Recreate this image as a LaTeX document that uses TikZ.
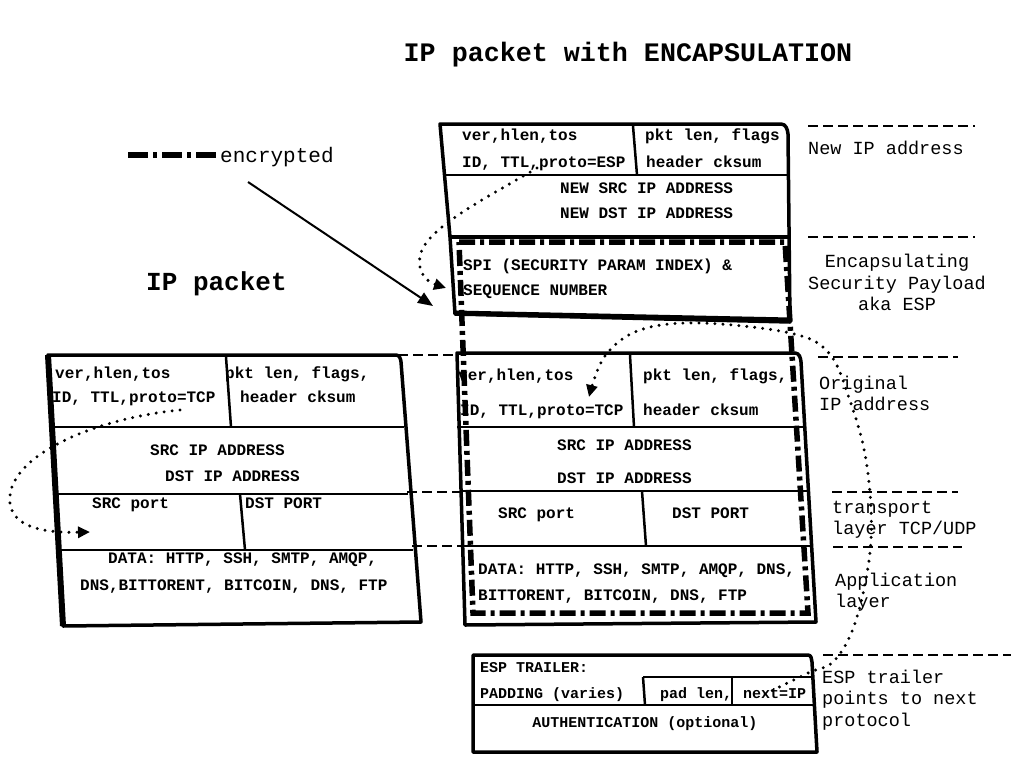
\documentclass[tikz,border=0pt]{standalone}
\usepackage{fontspec}
\setmainfont{Liberation Mono}
\usetikzlibrary{arrows.meta}
\begin{document}
\begin{tikzpicture}[x=1pt,y=-1pt,
  box/.style={line width=3.5pt, line join=round},
  sep/.style={line width=2.5pt},
  enc/.style={line width=5.5pt, dash pattern=on 16pt off 5pt on 4pt off 5pt},
  guide/.style={line width=2.2pt, dash pattern=on 10pt off 5pt},
  dotline/.style={line width=3.3pt, line cap=round, dash pattern=on 0pt off 8pt},
  bt/.style={font=\bfseries\fontsize{16}{18}\selectfont, inner sep=0pt, anchor=base west},
  tt/.style={font=\bfseries\fontsize{15}{17}\selectfont, inner sep=0pt, anchor=base west},
  lbl/.style={font=\fontsize{18.5}{21}\selectfont, inner sep=0pt, anchor=base west},
  tip/.style={-{Triangle[length=12pt,width=11pt]}}
]
\useasboundingbox (0,0) rectangle (1011,763);

% titles
\node[font=\bfseries\fontsize{26.7}{30}\selectfont, inner sep=0pt, anchor=base] (title) at (628,61) {IP packet with ENCAPSULATION};
\node[font=\bfseries\fontsize{26}{30}\selectfont, inner sep=0pt, anchor=base west] (ippk) at (146,290) {IP packet};

% legend
\draw[line width=6.5pt, dash pattern=on 20pt off 5pt on 4pt off 5pt] (128,155) -- (217,155);
\node[lbl, font=\fontsize{21}{24}\selectfont] (enclbl) at (220,162) {encrypted};
\coordinate (arrS) at (248,182);
\coordinate (arrE) at (433,306);
\draw[line width=2pt, -{Triangle[length=15pt,width=12pt]}] (arrS) -- (arrE);

% ---------- new IP header + ESP header ----------
\draw[box] (440,124) -- (781,124) to[out=0,in=95] (788,134) -- (790,322) -- (455,314) -- (450,237) -- cycle;
\draw[sep] (443,175) -- (788,175);
\draw[sep] (633,126) -- (637,175);
\draw[box] (450,237) -- (790,237);
\draw[line width=5pt] (455,313) -- (790,320);

\node[bt] (n1) at (462,140) {ver,hlen,tos};
\node[bt] (n2) at (462,167) {ID, TTL,proto=ESP};
\node[bt] (n3) at (645,140) {pkt len, flags};
\node[bt] (n4) at (646,167) {header cksum};
\node[bt] (n5) at (560,193) {NEW SRC IP ADDRESS};
\node[bt] (n6) at (560,218) {NEW DST IP ADDRESS};
\node[bt] (e1) at (463,270) {SPI (SECURITY PARAM INDEX) \&};
\node[bt] (e2) at (463,295) {SEQUENCE NUMBER};

% ---------- encapsulated original packet ----------
\draw[box] (457,353) -- (795,353) to[out=0,in=95] (801,362) -- (816,622) -- (465,625) -- cycle;
\draw[sep] (457,427) -- (803,427);
\draw[sep] (460,491) -- (807,491);
\draw[sep] (462,546) -- (810,546);
\draw[sep] (630,355) -- (634,427);
\draw[sep] (642,491) -- (646,546);

\node[bt] (o1) at (458,380) {ver,hlen,tos};
\node[bt] (o2) at (460,415) {ID, TTL,proto=TCP};
\node[bt] (o3) at (643,380) {pkt len, flags,};
\node[bt] (o4) at (643,415) {header cksum};
\node[bt] (o5) at (557,450) {SRC IP ADDRESS};
\node[bt] (o6) at (557,483) {DST IP ADDRESS};
\node[bt] (o7) at (498,518) {SRC port};
\node[bt] (o8) at (672,518) {DST PORT};
\node[bt] (o9) at (478,574) {DATA: HTTP, SSH, SMTP, AMQP, DNS,};
\node[bt] (o10) at (478,600) {BITTORENT, BITCOIN, DNS, FTP};

% encryption frame
\draw[enc] (459,242) -- (785,242) -- (808,613) -- (473,613) -- cycle;

% ---------- left IP packet ----------
\draw[box] (48,355) -- (396,355) to[out=0,in=95] (401,362) -- (421,622) -- (63,626) -- cycle;
\draw[line width=6pt] (48,355) -- (63,626);
\draw[sep] (52,427) -- (404,427);
\draw[sep] (57,494) -- (408,494);
\draw[sep] (60,550) -- (413,550);
\draw[sep] (226,357) -- (231,427);
\draw[sep] (240,494) -- (245,550);

\node[bt] (l1) at (55,378) {ver,hlen,tos};
\node[bt] (l2) at (52,402) {ID, TTL,proto=TCP};
\node[bt] (l3) at (225,378) {pkt len, flags,};
\node[bt] (l4) at (240,402) {header cksum};
\node[bt] (l5) at (150,455) {SRC IP ADDRESS};
\node[bt] (l6) at (165,481) {DST IP ADDRESS};
\node[bt] (l7) at (92,508) {SRC port};
\node[bt] (l8) at (245,508) {DST PORT};
\node[bt] (l9) at (108,563) {DATA: HTTP, SSH, SMTP, AMQP,};
\node[bt] (l10) at (80,590) {DNS,BITTORENT, BITCOIN, DNS, FTP};

% connecting dashed lines
\draw[guide] (398,355) -- (457,355);
\draw[guide] (407,492) -- (460,492);
\draw[guide] (412,546) -- (462,546);

% ---------- ESP trailer ----------
\draw[box] (473,655) -- (808,655) to[out=0,in=95] (812,662) -- (817,752) -- (473,752) -- cycle;
\draw[sep] (473,705) -- (814,705);
\draw[sep] (643,677) -- (812,677);
\draw[sep] (643,677) -- (645,705);
\draw[sep] (732,677) -- (732,705);

\node[tt] (t1) at (480,672) {ESP TRAILER:};
\node[tt] (t2) at (480,698) {PADDING (varies)};
\node[tt] (t3) at (660,698) {pad len,};
\node[tt] (t4) at (743,698) {next=IP};
\node[tt, anchor=base] (t5) at (645,727) {AUTHENTICATION (optional)};

% ---------- right-hand labels ----------
\draw[guide] (808,126) -- (975,126);
\node[lbl] (r1) at (808,154) {New IP address};
\draw[guide] (808,237) -- (975,237);
\node[lbl, anchor=base] (r2a) at (897,267) {Encapsulating};
\node[lbl, anchor=base] (r2b) at (897,289) {Security Payload};
\node[lbl, anchor=base] (r2c) at (897,310) {aka ESP};
\draw[guide] (818,357) -- (958,357);
\node[lbl] (r3a) at (819,389) {Original};
\node[lbl] (r3b) at (819,410) {IP address};
\draw[guide] (832,492) -- (958,492);
\node[lbl] (r4a) at (832,513) {transport};
\node[lbl] (r4b) at (832,534) {layer TCP/UDP};
\draw[guide] (833,547) -- (962,547);
\node[lbl] (r5a) at (835,586) {Application};
\node[lbl] (r5b) at (835,607) {layer};
\draw[guide] (823,655) -- (1011,655);
\node[lbl] (r6a) at (822,683) {ESP trailer};
\node[lbl] (r6b) at (822,704) {points to next};
\node[lbl] (r6c) at (822,726) {protocol};

% ---------- dotted pointers ----------
\coordinate (p1s) at (537,168);
\coordinate (p1e) at (446,288);
\draw[dotline, tip] (p1s) .. controls (490,196) and (425,228) .. (420,256) .. controls (417,274) and (428,282) .. (p1e);

\coordinate (p2s) at (180,410);
\coordinate (p2e) at (90,532);
\draw[dotline, tip] (p2s) .. controls (100,418) and (22,450) .. (11,490) .. controls (2,528) and (45,533) .. (p2e);

\coordinate (p3s) at (765,694);
\coordinate (p3e) at (589,397);
\draw[dotline, tip] plot[smooth, tension=0.6] coordinates {(p3s) (808,673) (835,660) (857,617) (871,540) (866,460) (848,395) (828,352) (790,333) (700,323) (640,330) (605,356) (p3e)};

\end{tikzpicture}
\end{document}
